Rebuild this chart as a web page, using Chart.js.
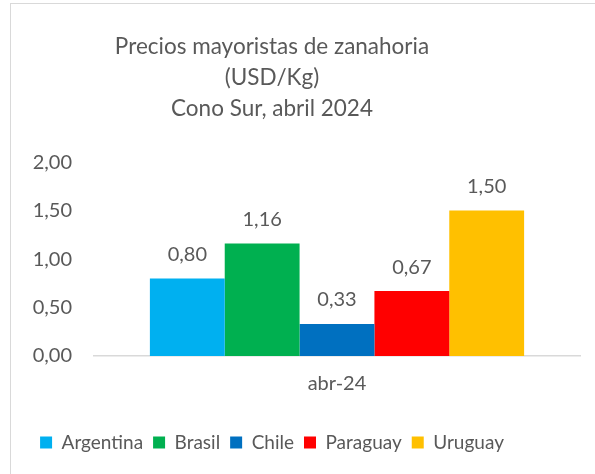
<!DOCTYPE html>
<html lang="es">
<head>
    <meta charset="UTF-8">
    <title>Precios mayoristas de zanahoria</title>
    <script src="https://cdn.jsdelivr.net/npm/chart.js"></script>
    <style>
        html, body { margin: 0; padding: 0; background: #fff; overflow: hidden; }
        #frame {
            position: absolute; left: 10px; top: 3px; width: 700px; height: 600px;
            border-left: 1.5px solid #d9d9d9; border-top: 1.5px solid #d9d9d9;
        }
        #wrap { position: absolute; left: -36px; top: 0; width: 631px; height: 474px; }
    </style>
</head>
<body>
    <div id="frame"></div>
    <div id="wrap"><canvas id="chart"></canvas></div>

    <script>
        // Datos
        const categorias = ['abr-24'];
        const paises = ['Argentina', 'Brasil', 'Chile', 'Paraguay', 'Uruguay'];
        const precios = [0.80, 1.16, 0.33, 0.67, 1.50];
        const colores = ['#00B0F0', '#00B050', '#0070C0', '#FF0000', '#FFC000'];

        const fmt = v => v.toFixed(2).replace('.', ',');
        const gris = '#595959';
        const fuente = 'Lato, "Open Sans", sans-serif';

        // Etiquetas de valor sobre las barras
        const etiquetas = {
            id: 'etiquetas',
            afterDatasetsDraw(chart) {
                const ctx = chart.ctx;
                ctx.save();
                ctx.font = '20px ' + fuente;
                ctx.fillStyle = gris;
                ctx.textAlign = 'center';
                ctx.textBaseline = 'middle';
                chart.data.datasets.forEach((ds, i) => {
                    chart.getDatasetMeta(i).data.forEach((bar, j) => {
                        ctx.fillText(fmt(ds.data[j]), bar.x, bar.y - 24);
                    });
                });
                ctx.restore();
            }
        };

        const ctx = document.getElementById('chart').getContext('2d');
        new Chart(ctx, {
            type: 'bar',
            data: {
                labels: categorias,
                datasets: paises.map((p, i) => ({
                    label: p,
                    data: [precios[i]],
                    backgroundColor: colores[i],
                    borderWidth: 0
                }))
            },
            options: {
                responsive: true,
                maintainAspectRatio: false,
                animation: false,
                layout: { padding: { left: 0, right: 15, top: 0, bottom: 12 } },
                datasets: { bar: { barPercentage: 1, categoryPercentage: 0.77 } },
                scales: {
                    x: {
                        grid: { display: false, drawTicks: false },
                        border: { display: true, color: '#d9d9d9', width: 1.5 },
                        ticks: { color: gris, font: { family: fuente, size: 20 }, padding: 16 },
                        afterFit(scale) { scale.height += 11; }
                    },
                    y: {
                        min: 0,
                        max: 2,
                        grid: { display: false, drawTicks: false },
                        border: { display: false },
                        ticks: {
                            stepSize: 0.5,
                            color: gris,
                            font: { family: fuente, size: 20 },
                            padding: 22,
                            callback: v => fmt(v)
                        },
                        afterFit(scale) { scale.width = 130; }
                    }
                },
                plugins: {
                    title: {
                        display: true,
                        text: ['Precios mayoristas de zanahoria', '(USD/Kg)', 'Cono Sur, abril 2024'],
                        color: gris,
                        font: { family: fuente, size: 22.5, weight: 'normal', lineHeight: 1.38 },
                        padding: { top: 31, bottom: 38 }
                    },
                    legend: {
                        position: 'bottom',
                        labels: {
                            color: gris,
                            boxWidth: 12,
                            boxHeight: 12,
                            padding: 10,
                            font: { family: fuente, size: 19 }
                        }
                    },
                    tooltip: { enabled: false }
                }
            },
            plugins: [etiquetas]
        });
    </script>
</body>
</html>
